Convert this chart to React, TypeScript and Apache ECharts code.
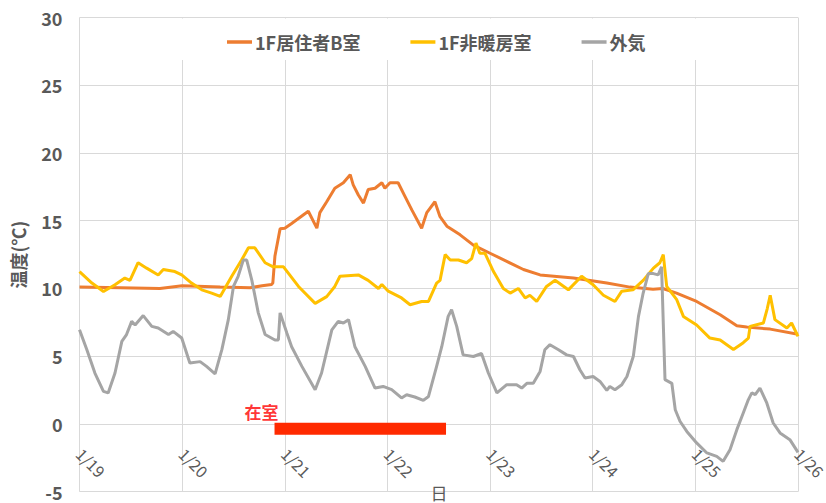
import React, { useEffect, useRef } from "react";
import * as echarts from "echarts";

// Hours since 1/19 00:00 and temperatures (°C)
const seriesNames = ["1F居住者B室", "1F非暖房室", "外気"];
const dayLabels = ["1/19", "1/20", "1/21", "1/22", "1/23", "1/24", "1/25", "1/26"];
const xAxisTitle = "日";
const yAxisTitle = "温度(℃)";

const roomBHours = [0, 9.5, 18.8, 24, 32.9, 39.9, 42.7, 44.9, 45.2, 45.7, 46.9, 48.0, 49.6, 53.5, 55.5, 56.2, 57.8, 59.7, 61.7, 63.3, 64.0, 65.2, 66.4, 67.5, 69.1, 70.7, 71.4, 72.6, 74.5, 76.1, 77.7, 80.0, 81.2, 83.1, 84.3, 85.9, 89.0, 92.1, 96.0, 99.9, 103.8, 107.7, 115.5, 123.3, 128.7, 134.1, 136.4, 139.6, 144.3, 149.8, 153.7, 156.0, 161.5, 168];
const roomBTemps = [10.1, 10.05, 10.0, 10.2, 10.1, 10.05, 10.2, 10.3, 10.4, 12.4, 14.4, 14.45, 14.8, 15.7, 14.45, 15.6, 16.4, 17.4, 17.8, 18.4, 17.65, 16.9, 16.3, 17.3, 17.4, 17.8, 17.4, 17.8, 17.8, 16.8, 15.8, 14.45, 15.6, 16.4, 15.3, 14.6, 13.96, 13.2, 12.6, 12.0, 11.4, 11.0, 10.77, 10.4, 10.1, 9.95, 10.0, 9.66, 9.04, 8.06, 7.25, 7.15, 7.0, 6.62];

const unheatedHours = [0, 2.9, 5.6, 8.3, 10.6, 11.8, 13.7, 15.7, 18.4, 19.6, 22.3, 23.9, 26.2, 28.6, 30.9, 32.9, 35.6, 37.9, 39.5, 41.0, 43.4, 45.3, 47.7, 51.2, 55.1, 57.8, 59.7, 60.9, 65.2, 67.5, 69.9, 70.7, 72.2, 75.3, 77.3, 80.0, 81.6, 83.5, 84.3, 85.5, 86.7, 88.6, 90.5, 91.7, 92.7, 93.6, 94.8, 96.8, 99.1, 100.7, 102.6, 104.2, 105.3, 106.9, 109.2, 111.2, 114.3, 117.4, 120.1, 122.5, 125.2, 126.8, 129.4, 131.8, 134.2, 135.7, 136.5, 137.3, 139.6, 141.2, 144.3, 147.4, 149.8, 152.9, 155.2, 156.4, 156.8, 159.9, 160.8, 161.5, 162.6, 165.4, 166.5, 168];
const unheatedTemps = [11.25, 10.4, 9.78, 10.27, 10.77, 10.6, 11.9, 11.5, 11.0, 11.4, 11.25, 11.0, 10.4, 9.9, 9.66, 9.41, 10.9, 12.1, 13.0, 13.0, 11.9, 11.6, 11.6, 10.15, 8.9, 9.4, 10.15, 10.9, 11.0, 10.6, 10.0, 10.3, 9.8, 9.3, 8.8, 9.04, 9.04, 10.4, 10.6, 12.5, 12.1, 12.1, 11.9, 12.2, 13.35, 12.6, 12.6, 11.25, 10.0, 9.66, 10.0, 9.3, 9.5, 9.04, 10.15, 10.6, 9.9, 10.9, 10.27, 9.5, 9.04, 9.8, 9.9, 10.6, 11.5, 11.9, 12.5, 10.15, 9.2, 7.94, 7.3, 6.34, 6.2, 5.5, 6.0, 6.34, 7.2, 7.45, 8.5, 9.5, 7.7, 7.08, 7.45, 6.46];

const outdoorHours = [0, 1.7, 3.6, 5.6, 6.7, 8.3, 9.9, 11.0, 12.2, 13.0, 14.9, 16.9, 18.4, 20.8, 21.9, 23.9, 25.8, 28.2, 29.7, 31.7, 33.3, 34.8, 36.0, 37.1, 38.3, 39.1, 40.3, 41.8, 43.4, 45.7, 46.5, 46.9, 48.5, 49.6, 52.0, 55.1, 56.6, 59.0, 60.5, 61.7, 62.9, 64.4, 66.8, 69.1, 71.0, 73.0, 75.3, 76.5, 78.4, 80.4, 81.6, 83.5, 84.7, 86.2, 87.0, 88.2, 89.7, 92.1, 94.0, 95.6, 97.6, 99.9, 102.2, 103.4, 104.6, 106.1, 107.7, 108.8, 110.0, 112.0, 113.9, 115.5, 117.0, 118.2, 120.1, 121.7, 123.3, 124.0, 125.2, 126.8, 128.0, 129.5, 130.7, 131.8, 133.0, 134.2, 135.3, 136.1, 136.9, 138.5, 139.3, 140.4, 142.0, 144.3, 146.7, 149.0, 150.5, 152.1, 153.7, 155.2, 156.4, 157.2, 158.0, 159.1, 160.7, 162.2, 163.8, 166.1, 168];
const outdoorTemps = [6.95, 5.5, 3.76, 2.4, 2.29, 3.76, 6.1, 6.6, 7.57, 7.3, 8.0, 7.2, 7.08, 6.6, 6.83, 6.34, 4.5, 4.6, 4.25, 3.7, 5.5, 7.7, 10.15, 10.9, 12.1, 12.1, 10.6, 8.2, 6.6, 6.2, 6.2, 8.2, 6.7, 5.7, 4.25, 2.53, 3.76, 6.95, 7.57, 7.45, 7.7, 5.7, 4.25, 2.65, 2.77, 2.53, 1.92, 2.16, 1.99, 1.74, 2.03, 4.25, 5.7, 7.94, 8.43, 7.2, 5.1, 4.98, 5.2, 3.76, 2.29, 2.9, 2.9, 2.65, 3.0, 3.0, 3.88, 5.48, 5.85, 5.48, 5.1, 4.98, 4.0, 3.39, 3.5, 3.14, 2.48, 2.77, 2.53, 2.9, 3.5, 5.0, 7.94, 9.66, 11.1, 11.1, 11.0, 11.6, 3.27, 3.0, 1.05, 0.2, -0.55, -1.4, -2.14, -2.39, -2.76, -1.9, -0.42, 0.81, 1.8, 2.29, 2.16, 2.65, 1.55, 0.07, -0.66, -1.16, -2.1];

// occupancy period (在室)
const occupancyLabel = "在室";
const occupancyHours = [45.6, 85.7];
const occupancyLevel = -0.35;
const occupancyLabelLevel = 0.9;

const zip = (xs: number[], ys: number[]) => xs.map((x, i) => [x, ys[i]]);

const FONT = "'Noto Sans CJK JP', 'Noto Sans', sans-serif";
const TEXT = "#595959";
const GRID = "#D9D9D9";

export default function App() {
  const ref = useRef<HTMLDivElement>(null);
  useEffect(() => {
    if (!ref.current) return;
    const chart = echarts.init(ref.current, null, { renderer: "svg" });
    chart.setOption({
      animation: false,
      backgroundColor: "#ffffff",
      textStyle: { fontFamily: FONT },
      grid: { left: 79.5, right: 28, top: 17.5, bottom: 11.3, containLabel: false, outerBoundsMode: "none" },
      legend: {
        data: seriesNames,
        left: 222,
        top: 28,
        icon: "rect",
        itemWidth: 25,
        itemHeight: 3.5,
        itemGap: 50,
        textStyle: { fontFamily: FONT, fontSize: 18, fontWeight: "bold", color: TEXT, padding: [0, 0, 0, -2] },
      },
      graphic: [
        {
          type: "rect",
          z: 3,
          silent: true,
          shape: { x: 81, y: 18.5, width: 716, height: 41.5 },
          style: { fill: "#ffffff" },
        },
        {
          type: "text",
          z: 5,
          silent: true,
          x: 439,
          y: 492,
          style: {
            text: xAxisTitle,
            fontFamily: FONT,
            fontSize: 17,
            fill: TEXT,
            align: "center",
            verticalAlign: "middle",
          },
        },
      ],
      xAxis: {
        type: "value",
        min: 0,
        max: 168,
        interval: 24,
        axisLine: { show: false, onZero: false },
        axisTick: { show: false },
        axisLabel: {
          rotate: -45,
          margin: -41,
          fontSize: 16,
          color: TEXT,
          fontFamily: FONT,
          formatter: (v: number) => dayLabels[Math.round(v / 24)] ?? "",
        },
        splitLine: { show: true, lineStyle: { color: GRID, width: 1 } },
      },
      yAxis: {
        type: "value",
        min: -5,
        max: 30,
        interval: 5,
        name: yAxisTitle,
        nameLocation: "middle",
        nameGap: 53,
        nameRotate: 90,
        nameTextStyle: { fontFamily: FONT, fontSize: 18, fontWeight: "bold", color: TEXT },
        axisLine: { show: false },
        axisTick: { show: false },
        axisLabel: { fontSize: 18, fontWeight: "bold", color: TEXT, margin: 17, fontFamily: FONT },
        splitLine: { show: true, lineStyle: { color: GRID, width: 1 } },
      },
      series: [
        {
          name: seriesNames[0],
          type: "line",
          data: zip(roomBHours, roomBTemps),
          symbol: "none",
          lineStyle: { color: "#ED7D31", width: 3 },
          itemStyle: { color: "#ED7D31" },
          z: 2,
        },
        {
          name: seriesNames[1],
          type: "line",
          data: zip(unheatedHours, unheatedTemps),
          symbol: "none",
          lineStyle: { color: "#FFC000", width: 3 },
          itemStyle: { color: "#FFC000" },
          z: 2,
        },
        {
          name: seriesNames[2],
          type: "line",
          data: zip(outdoorHours, outdoorTemps),
          symbol: "none",
          lineStyle: { color: "#A5A5A5", width: 3 },
          itemStyle: { color: "#A5A5A5" },
          z: 2,
        },
        {
          name: occupancyLabel,
          type: "line",
          data: occupancyHours.map((h) => [h, occupancyLevel]),
          symbol: "none",
          lineStyle: { color: "#FF2A00", width: 12, cap: "butt" },
          itemStyle: { color: "#FF2A00" },
          z: 3,
        },
        {
          name: occupancyLabel + "ラベル",
          type: "scatter",
          data: [[occupancyHours[0], occupancyLabelLevel]],
          symbolSize: 1,
          itemStyle: { color: "rgba(0,0,0,0)" },
          label: {
            show: true,
            position: "inside",
            align: "right",
            offset: [4, 0],
            formatter: occupancyLabel,
            color: "#FF0000",
            fontSize: 17,
            fontWeight: "bold",
            fontFamily: FONT,
          },
          z: 4,
        },
      ],
    });
    return () => chart.dispose();
  }, []);
  return (
    <div
      ref={ref}
      style={{ position: "absolute", left: 0, top: 0, width: 826, height: 503 }}
    />
  );
}
